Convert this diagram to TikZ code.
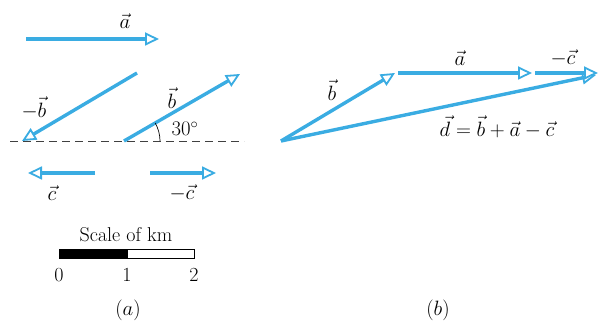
\documentclass[tikz,border=0pt]{standalone}
\usepackage{tikz}
\usetikzlibrary{positioning,arrows.meta,calc}
\usepackage{amsmath,amssymb}
\usepackage{xcolor}
\definecolor{vecblue}{RGB}{58,172,226}

\begin{document}
\begin{tikzpicture}[
  x=10pt,y=10pt,
  every node/.style={font=\fontsize{20}{24}\selectfont,inner sep=1pt},
  vec/.style={vecblue,line width=3.4pt,
    -{Triangle[length=14pt,width=13pt,line width=1.8pt,fill=white]}},
  base/.style={black!75,line width=0.9pt,dash pattern=on 8pt off 5pt},
  bar/.style={black,line width=0.8pt}
]
\useasboundingbox (0,0) rectangle (60.4,32.1);

% (a)：各ベクトル
\begin{scope}
  % a
  \coordinate (aS) at (2.6,28.2);
  \coordinate (aE) at (15.9,28.2);
  \draw[vec] (aS)--(aE);
  \node (la) at (12.5,30.0) {$\vec{a}$};

  % 基準線
  \coordinate (hL) at (1.0,18.0);
  \coordinate (hR) at (24.4,18.0);
  \draw[base] (hL)--(hR);

  % -b
  \coordinate (mbS) at (13.7,24.8);
  \coordinate (mbE) at (2.2,18.0);
  \draw[vec] (mbS)--(mbE);
  \node (lmb) at (3.4,21.3) {$-\vec{b}$};

  % b と角度
  \coordinate (bS) at (12.4,18.0);
  \coordinate (bE) at ($(bS)+(30:13.4)$);
  \draw[vec] (bS)--(bE);
  \node (lb) at (17.2,22.3) {$\vec{b}$};
  \draw[black,line width=0.7pt] ($(bS)+(3.6,0)$) arc (0:30:3.6);
  \node (ang) at (18.5,19.2) {$30^\circ$};

  % c, -c
  \coordinate (cS) at (9.5,14.8);
  \coordinate (cE) at (2.8,14.8);
  \draw[vec] (cS)--(cE);
  \node (lc) at (5.2,12.8) {$\vec{c}$};
  \coordinate (mcS) at (15.0,14.8);
  \coordinate (mcE) at (21.6,14.8);
  \draw[vec] (mcS)--(mcE);
  \node (lmc) at (18.2,12.8) {$-\vec{c}$};

  % 縮尺
  \node (scl) at (12.6,8.6) {Scale of km};
  \draw[bar,fill=black] (5.9,6.3) rectangle (12.7,7.2);
  \draw[bar,fill=white] (12.7,6.3) rectangle (19.4,7.2);
  \node (n0) at (5.9,4.6) {0};
  \node (n1) at (12.7,4.6) {1};
  \node (n2) at (19.4,4.6) {2};

  \node (capa) at (12.8,1.1) {$(a)$};
\end{scope}

% (b)：和 d = b + a - c
\begin{scope}
  \coordinate (O) at (28.1,18.0);
  \coordinate (P) at (39.5,24.8);
  \coordinate (Q) at (39.8,24.8);
  \coordinate (R) at (53.2,24.8);
  \coordinate (S) at (53.5,24.8);
  \coordinate (T) at (59.8,24.8);
  \coordinate (D) at (59.6,24.6);

  \draw[vec] (O)--(D);
  \draw[vec] (O)--(P);
  \draw[vec] (Q)--(R);
  \draw[vec] (S)--(T);

  \node (lb2) at (33.2,23.1) {$\vec{b}$};
  \node (la2) at (46.0,26.3) {$\vec{a}$};
  \node (lmc2) at (56.3,26.3) {$-\vec{c}$};
  \node (ld) at (49.7,19.4) {$\vec{d}=\vec{b}+\vec{a}-\vec{c}$};

  \node (capb) at (43.8,1.1) {$(b)$};
\end{scope}

\end{tikzpicture}
\end{document}
